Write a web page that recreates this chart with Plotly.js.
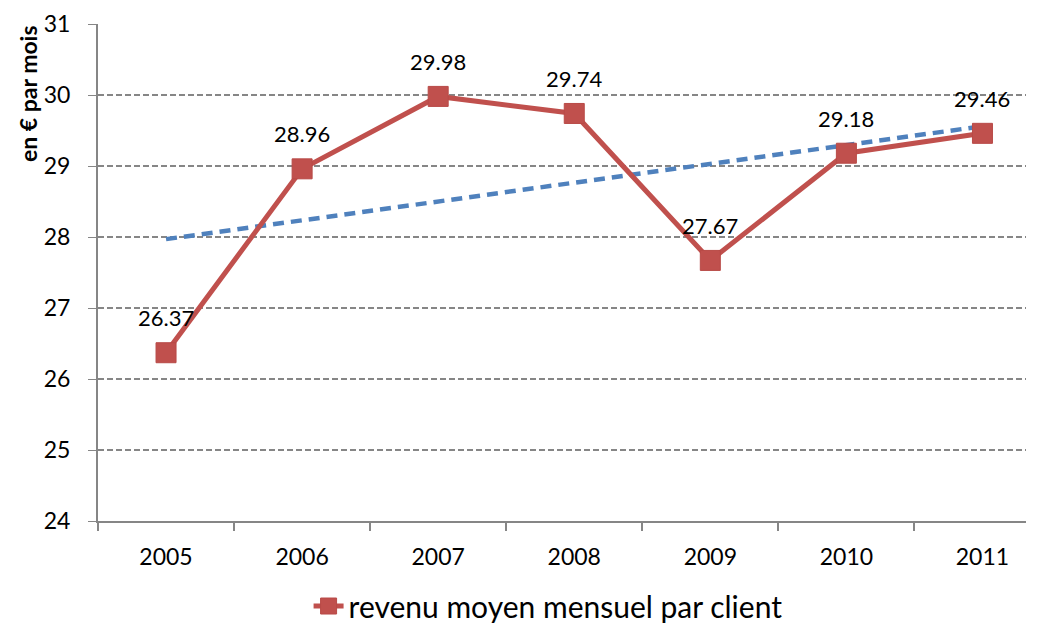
<!DOCTYPE html>
<html>
<head>
<meta charset="utf-8">
<script src="https://cdn.plot.ly/plotly-3.0.1.min.js"></script>
<style>html,body{margin:0;padding:0;background:#fff;}#chart{width:1044px;height:628px;}</style>
</head>
<body>
<div id="chart"></div>
<script>
const years = ['2005', '2006', '2007', '2008', '2009', '2010', '2011'];
const revenue = [26.37, 28.96, 29.98, 29.74, 27.67, 29.18, 29.46];
const trendYears = ['2005', '2011'];
const trendValues = [27.97, 29.56];
const seriesName = 'revenu moyen mensuel par client';
const yTitle = 'en € par mois';

const FONT = 'Lato, sans-serif';

const traces = [
  {
    x: trendYears, y: trendValues, type: 'scatter', mode: 'lines',
    line: {color: '#4F81BD', width: 4.5, dash: '11px,7px'},
    showlegend: false, hoverinfo: 'skip'
  },
  {
    x: years, y: revenue, type: 'scatter', mode: 'lines+markers',
    name: seriesName,
    line: {color: '#C0504D', width: 5},
    marker: {symbol: 'square', size: 20, color: '#C0504D', line: {color: '#B84A47', width: 1}}
  }
];

const annotations = years.map((yr, i) => ({
  x: i, y: revenue[i], xref: 'x', yref: 'y',
  text: revenue[i].toFixed(2), showarrow: false, yshift: 35,
  font: {family: FONT, size: 22, color: '#000000'}
}));
annotations.push({
  xref: 'paper', yref: 'paper', x: -0.076, y: 0.86, xanchor: 'center', yanchor: 'middle',
  text: '<b>' + yTitle + '</b>', textangle: -90, showarrow: false,
  font: {family: FONT, size: 23, color: '#000000'}
});

const layout = {
  width: 1044, height: 628,
  margin: {l: 98, r: 18, t: 24, b: 107},
  paper_bgcolor: '#ffffff', plot_bgcolor: '#ffffff',
  font: {family: FONT, color: '#000000'},
  xaxis: {
    type: 'category', categoryorder: 'array', categoryarray: years,
    range: [-0.5, 6.32],
    showgrid: false, showline: true, linecolor: '#868686', linewidth: 2,
    ticks: 'outside', ticklen: 8, tickcolor: '#868686', tickwidth: 2,
    tickson: 'boundaries', ticklabelstandoff: 14,
    tickfont: {family: FONT, size: 23, color: '#000000'}, zeroline: false
  },
  yaxis: {
    range: [24, 31], dtick: 1, tick0: 24,
    showgrid: true, gridcolor: '#868686', gridwidth: 1.2, griddash: '6px,3px',
    showline: true, linecolor: '#868686', linewidth: 2,
    ticks: 'outside', ticklen: 8, tickcolor: '#868686', tickwidth: 1,
    ticklabelstandoff: 13,
    tickfont: {family: FONT, size: 23, color: '#000000'}, zeroline: false
  },
  showlegend: true,
  legend: {
    orientation: 'h', x: 0.485, xanchor: 'center',
    yref: 'container', y: 0.035, yanchor: 'middle',
    font: {family: FONT, size: 30, color: '#000000'}
  },
  annotations: annotations
};

Plotly.newPlot('chart', traces, layout, {displayModeBar: false, staticPlot: true});
</script>
</body>
</html>
